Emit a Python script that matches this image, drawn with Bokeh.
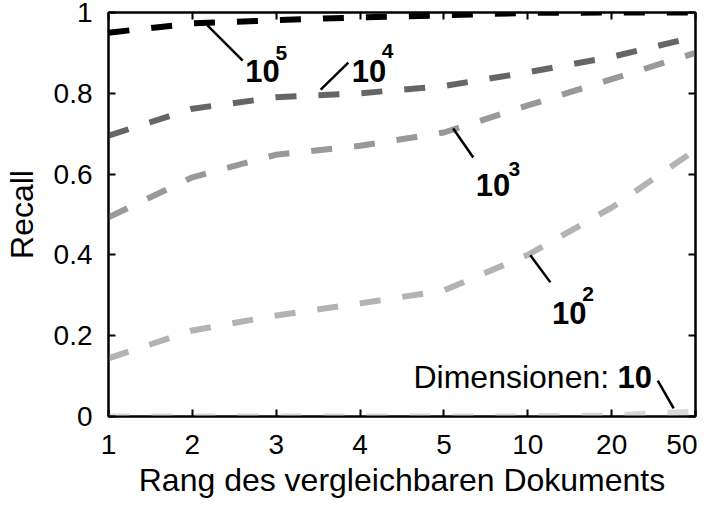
from bokeh.plotting import figure
from bokeh.models import FixedTicker, LinearAxis, Range1d, Title
from bokeh.core.properties import value
from bokeh.embed import file_html
from bokeh.resources import INLINE

# ---- data ----
x_labels = ["1", "2", "3", "4", "5", "10", "20", "50"]
x_pos = list(range(len(x_labels)))
recall_1e5 = [0.95, 0.973, 0.981, 0.988, 0.993, 0.999, 1.0, 1.0]
recall_1e4 = [0.695, 0.762, 0.79, 0.80, 0.818, 0.852, 0.89, 0.94]
recall_1e3 = [0.493, 0.592, 0.648, 0.67, 0.703, 0.77, 0.835, 0.9]
recall_1e2 = [0.144, 0.213, 0.25, 0.28, 0.312, 0.40, 0.517, 0.66]
recall_1e1 = [0.0, 0.0, 0.0, 0.0, 0.0, 0.0, 0.003, 0.012]
y_ticks = [0, 0.2, 0.4, 0.6, 0.8, 1]
y_tick_labels = {0: "0", 0.2: "0.2", 0.4: "0.4", 0.6: "0.6", 0.8: "0.8", 1: "1"}

series = [
    (recall_1e1, "#d9d9d9"),
    (recall_1e2, "#b3b3b3"),
    (recall_1e3, "#999999"),
    (recall_1e4, "#666666"),
    (recall_1e5, "#000000"),
]

# annotation layout (data coordinates)
lead_x0 = [1.18, 2.53, 4.11, 5.03, 6.55]
lead_y0 = [0.968, 0.809, 0.713, 0.399, 0.089]
lead_x1 = [1.60, 2.86, 4.35, 5.27, 6.74]
lead_y1 = [0.881, 0.876, 0.641, 0.332, 0.020]
base_x = [1.63, 2.90, 4.38, 5.29, 6.07]
base_y = [0.854, 0.854, 0.572, 0.257, 0.097]
base_txt = ["10", "10", "10", "10", "10"]
exp_x = [1.99, 3.26, 4.77, 5.65]
exp_y = [0.900, 0.905, 0.612, 0.303]
exp_txt = ["5", "4", "3", "2"]
dim_x = [5.97]
dim_y = [0.097]
dim_txt = ["Dimensionen:"]
x_title = "Rang des vergleichbaren Dokuments"

FONT = "Liberation Sans"

p = figure(width=697, height=503, output_backend="svg", toolbar_location=None,
           x_range=Range1d(0, 7), y_range=Range1d(0, 1),
           min_border_left=108, min_border_right=2, min_border_top=12,
           min_border_bottom=87)
p.grid.visible = False
p.outline_line_color = "black"
p.outline_line_width = 2
p.background_fill_color = "white"
p.border_fill_color = "white"

for vals, col in series:
    p.line(x_pos, vals, line_color=col, line_width=6, line_dash="21 22",
           line_cap="butt")

p.segment(lead_x0, lead_y0, lead_x1, lead_y1, line_color="black", line_width=2.5)
p.text(base_x, base_y, text=base_txt, text_font=value(FONT), text_font_style="bold",
       text_font_size="31px", text_baseline="alphabetic", text_align="left", text_color="black")
p.text(exp_x, exp_y, text=exp_txt, text_font=value(FONT), text_font_style="bold",
       text_font_size="21px", text_baseline="alphabetic", text_align="left", text_color="black")
p.text(dim_x, dim_y, text=dim_txt, text_font=value(FONT), text_font_style="normal",
       text_font_size="32px", text_baseline="alphabetic", text_align="right", text_color="black")

xt = FixedTicker(ticks=x_pos)
yt = FixedTicker(ticks=y_ticks)

xa = p.xaxis[0]
xa.ticker = xt
xa.major_label_overrides = {i: l for i, l in zip(x_pos, x_labels)}
ya = p.yaxis[0]
ya.ticker = yt
ya.major_label_overrides = y_tick_labels

for ax in (xa, ya):
    ax.major_tick_in = 7
    ax.major_tick_out = 0
    ax.minor_tick_line_color = None
    ax.major_tick_line_width = 2
    ax.axis_line_width = 2
    ax.axis_line_color = "black"
    ax.major_tick_line_color = "black"
    ax.major_label_text_font = FONT
    ax.major_label_text_font_size = "28px"
    ax.major_label_text_color = "black"
    ax.axis_label_text_font = FONT
    ax.axis_label_text_font_size = "32px"
    ax.axis_label_text_font_style = "normal"
    ax.axis_label_text_color = "black"

xa.major_label_standoff = 18
ya.axis_label = "Recall"
ya.major_label_standoff = 16
ya.axis_label_standoff = 11

p.add_layout(Title(text=x_title, align="center", text_font=FONT,
                   text_font_size="32px", text_font_style="normal",
                   text_color="black", standoff=7), "below")

top = LinearAxis(ticker=FixedTicker(ticks=x_pos))
right = LinearAxis(ticker=FixedTicker(ticks=y_ticks))
for ax in (top, right):
    ax.major_tick_in = 7
    ax.major_tick_out = 0
    ax.minor_tick_line_color = None
    ax.major_tick_line_width = 2
    ax.axis_line_width = 2
    ax.major_label_text_font_size = "1px"
    ax.major_label_text_color = None
    ax.major_label_standoff = 0
p.add_layout(top, "above")
p.add_layout(right, "right")

open("out.html", "w").write(file_html(p, INLINE))
